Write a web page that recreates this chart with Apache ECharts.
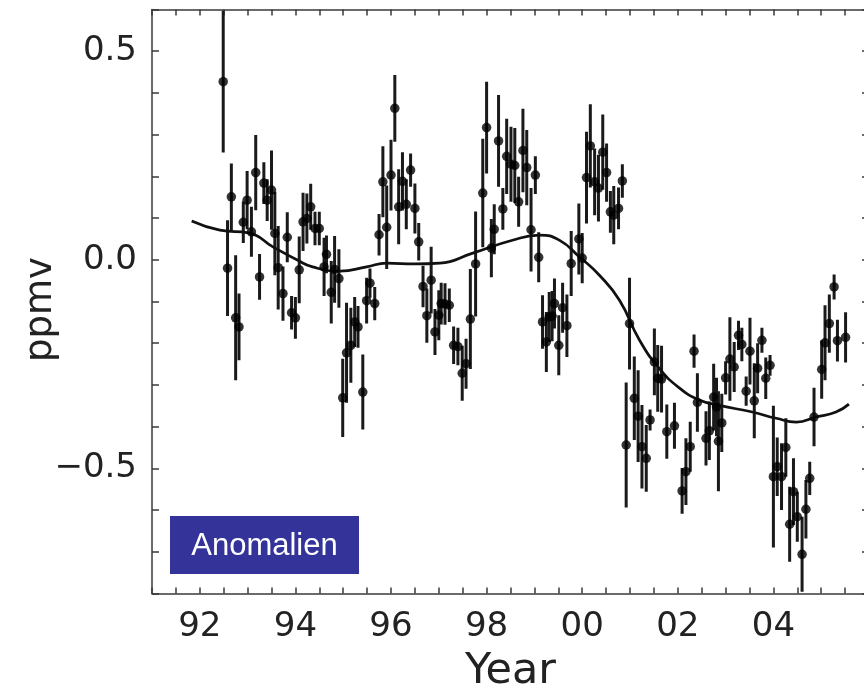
<!DOCTYPE html>
<html>
<head>
<meta charset="utf-8">
<script src="https://cdn.jsdelivr.net/npm/echarts@6/dist/echarts.min.js"></script>
<style>
html,body{margin:0;padding:0;background:#fff;overflow:hidden;}
#chart{width:872px;height:692px;}
</style>
</head>
<body>
<div id="chart"></div>
<script>
// Monthly anomaly points (decimal year since 1900), value (ppmv), half error bar
const years = [
92.49,92.58,92.66,92.75,92.82,92.91,92.99,93.08,93.17,93.25,
93.34,93.41,93.50,93.57,93.64,93.74,93.83,93.92,94.00,94.08,
94.16,94.24,94.32,94.41,94.50,94.60,94.65,94.75,94.82,94.91,
94.99,95.07,95.16,95.24,95.31,95.41,95.49,95.56,95.66,95.75,
95.83,95.91,96.00,96.08,96.16,96.24,96.32,96.41,96.50,96.58,
96.67,96.75,96.84,96.92,97.00,97.05,97.13,97.22,97.31,97.40,
97.49,97.57,97.66,97.77,97.92,98.00,98.10,98.16,98.25,98.34,
98.42,98.51,98.59,98.67,98.76,98.84,98.93,99.02,99.09,99.17,
99.25,99.31,99.37,99.42,99.51,99.59,99.68,99.77,99.93,100.00,
100.09,100.17,100.26,100.34,100.43,100.51,100.59,100.66,100.76,100.84,
100.92,100.99,101.09,101.17,101.25,101.34,101.42,101.51,101.58,101.66,
101.77,101.93,102.09,102.17,102.26,102.34,102.41,102.59,102.66,102.75,
102.81,102.85,102.92,103.00,103.09,103.18,103.27,103.34,103.43,103.51,
103.60,103.67,103.76,103.84,103.93,104.00,104.08,104.17,104.26,104.34,
104.42,104.50,104.60,104.68,104.76,104.85,105.01,105.08,105.17,105.27,
105.34,105.51
];
const values = [
0.427,-0.020,0.151,-0.139,-0.161,0.090,0.143,0.067,0.209,-0.041,
0.184,0.143,0.167,0.063,-0.019,-0.081,0.054,-0.127,-0.139,-0.024,
0.091,0.099,0.127,0.075,0.075,-0.017,0.013,-0.078,-0.023,-0.045,
-0.331,-0.223,-0.205,-0.149,-0.161,-0.317,-0.098,-0.056,-0.105,0.060,
0.187,0.078,0.203,0.363,0.127,0.188,0.133,0.215,0.123,0.043,
-0.064,-0.134,-0.049,-0.173,-0.133,-0.105,-0.106,-0.109,-0.205,-0.208,
-0.272,-0.249,-0.142,-0.010,0.160,0.317,0.028,0.073,0.285,0.122,
0.248,0.229,0.226,0.139,0.262,0.221,0.072,0.203,0.006,-0.149,
-0.197,-0.137,-0.135,-0.105,-0.205,-0.115,-0.158,-0.009,0.050,0.004,
0.197,0.273,0.187,0.172,0.258,0.209,0.115,0.107,0.123,0.189,
-0.444,-0.153,-0.332,-0.375,-0.448,-0.476,-0.384,-0.245,-0.284,-0.286,
-0.412,-0.398,-0.554,-0.508,-0.448,-0.219,-0.342,-0.428,-0.410,-0.329,
-0.353,-0.435,-0.391,-0.283,-0.238,-0.257,-0.181,-0.203,-0.315,-0.219,
-0.338,-0.260,-0.193,-0.284,-0.253,-0.520,-0.496,-0.520,-0.450,-0.634,
-0.556,-0.616,-0.706,-0.598,-0.524,-0.377,-0.263,-0.199,-0.153,-0.065,
-0.194,-0.186
];
const errors = [
0.170,0.115,0.080,0.150,0.080,0.050,0.070,0.060,0.090,0.055,
0.050,0.050,0.095,0.100,0.100,0.065,0.060,0.040,0.050,0.080,
0.070,0.060,0.055,0.040,0.040,0.070,0.045,0.075,0.080,0.070,
0.094,0.120,0.090,0.060,0.050,0.090,0.055,0.035,0.040,0.050,
0.085,0.100,0.085,0.080,0.090,0.070,0.060,0.040,0.060,0.045,
0.050,0.065,0.080,0.055,0.060,0.050,0.050,0.040,0.045,0.045,
0.066,0.060,0.120,0.126,0.130,0.110,0.070,0.060,0.110,0.050,
0.090,0.090,0.090,0.060,0.100,0.090,0.100,0.045,0.060,0.064,
0.072,0.060,0.060,0.060,0.072,0.060,0.075,0.078,0.085,0.060,
0.110,0.100,0.080,0.080,0.090,0.070,0.050,0.070,0.050,0.040,
0.150,0.110,0.100,0.110,0.100,0.080,0.025,0.080,0.080,0.080,
0.065,0.055,0.055,0.080,0.060,0.040,0.070,0.065,0.070,0.080,
0.070,0.120,0.070,0.040,0.100,0.060,0.035,0.040,0.035,0.080,
0.090,0.060,0.030,0.050,0.025,0.170,0.070,0.080,0.070,0.090,
0.080,0.060,0.090,0.070,0.040,0.070,0.070,0.090,0.070,0.030,
0.050,0.060
];
// Smoothed fit
const curveYears = [91.83,92.42,93.04,93.53,94.03,94.36,94.93,95.49,95.91,96.5,97.02,97.71,98.54,99.11,99.52,99.94,100.36,100.78,101.2,101.61,102.03,102.45,102.87,103.56,104.06,104.48,104.89,105.31,105.58];
const curveValues = [0.093,0.071,0.064,0.031,0.0,-0.017,-0.027,-0.017,-0.008,-0.01,-0.008,0.016,0.047,0.059,0.047,0.007,-0.037,-0.097,-0.193,-0.26,-0.307,-0.336,-0.349,-0.365,-0.38,-0.389,-0.377,-0.365,-0.346];
const yLabels = {'0.5':'0.5','0':'0.0','-0.5':'\u22120.5'};
const xTitle = 'Year', yTitle = 'ppmv', boxLabel = 'Anomalien';

const chart = echarts.init(document.getElementById('chart'), null, {renderer:'canvas'});
const axisCol = '#3a3a3a';
const tickFont = 'DejaVu Sans';
const barData = years.map((y,i)=>[y, values[i]-errors[i], values[i]+errors[i]]);
const ptData = years.map((y,i)=>[y, values[i]]);
const curveData = curveYears.map((y,i)=>[y, curveValues[i]]);
function xFmt(v){ const r = Math.round(v*100)/100; if (r < 105 && Math.abs(r - Math.round(r))<1e-6 && Math.round(r)%2===0){ const m = Math.round(r)%100; return (m<10?'0':'')+m; } return ''; }
function yFmt(v){ const k = String(Math.round(v*10)/10); return yLabels[k] || ''; }
const baseX = {type:'value', min:91, max:106, interval:0.5, splitLine:{show:false},
  axisLine:{show:true, onZero:false, lineStyle:{color:axisCol, width:1.5}},
  axisTick:{show:true, inside:true, length:6, lineStyle:{color:axisCol, width:1.5}}};
const baseY = {type:'value', min:-0.8, max:0.6, interval:0.1, splitLine:{show:false},
  axisLine:{show:true, onZero:false, lineStyle:{color:axisCol, width:1.5}},
  axisTick:{show:true, inside:true, length:7, lineStyle:{color:axisCol, width:1.5}}};
chart.setOption({
  animation:false,
  backgroundColor:'#fff',
  grid:{left:152, right:3, top:9.5, bottom:98.5, containLabel:false, outerBoundsMode:'none'},
  xAxis:[
    Object.assign({}, baseX, {position:'bottom', name:xTitle, nameLocation:'middle', nameGap:57, nameMoveOverlap:false,
      nameTextStyle:{fontFamily:tickFont, fontSize:43, color:'#222'},
      axisLabel:{show:true, formatter:xFmt, margin:17, fontFamily:tickFont, fontSize:34, color:'#222', showMinLabel:true, showMaxLabel:false, hideOverlap:false}}),
    Object.assign({}, baseX, {position:'top', axisLabel:{show:false}})
  ],
  yAxis:[
    Object.assign({}, baseY, {position:'left', name:yTitle, nameLocation:'middle', nameGap:92, nameRotate:90, nameMoveOverlap:false,
      nameTextStyle:{fontFamily:tickFont, fontSize:37, color:'#222', padding:[0,16,0,0]},
      axisLabel:{show:true, formatter:yFmt, margin:15, fontFamily:tickFont, fontSize:34, color:'#222', hideOverlap:false}}),
    Object.assign({}, baseY, {position:'right', axisLabel:{show:false}})
  ],
  series:[
    {type:'custom', xAxisIndex:0, yAxisIndex:0, clip:true, data:barData, encode:{x:0, y:[1,2]},
      renderItem:function(params, api){
        const a = api.coord([api.value(0), api.value(1)]);
        const b = api.coord([api.value(0), api.value(2)]);
        return {type:'line', shape:{x1:a[0], y1:a[1], x2:b[0], y2:b[1]}, style:{stroke:'#1a1a1a', lineWidth:3}};
      }, z:2},
    {type:'line', data:curveData, smooth:0.5, showSymbol:false, symbol:'none',
      lineStyle:{color:'#111', width:2.7}, z:3},
    {type:'scatter', data:ptData, symbol:'circle', symbolSize:9.5, itemStyle:{color:'#000'}, z:4}
  ],
  graphic:{elements:[
    {type:'rect', x:170, y:516, z:10, shape:{x:0, y:0, width:189, height:58}, style:{fill:'#333399'}},
    {type:'text', x:264.5, y:546, z:11, style:{text:boxLabel, fill:'#ffffff', fontSize:31, fontFamily:'Liberation Sans', align:'center', verticalAlign:'middle'}}
  ]}
});
</script>
</body>
</html>
